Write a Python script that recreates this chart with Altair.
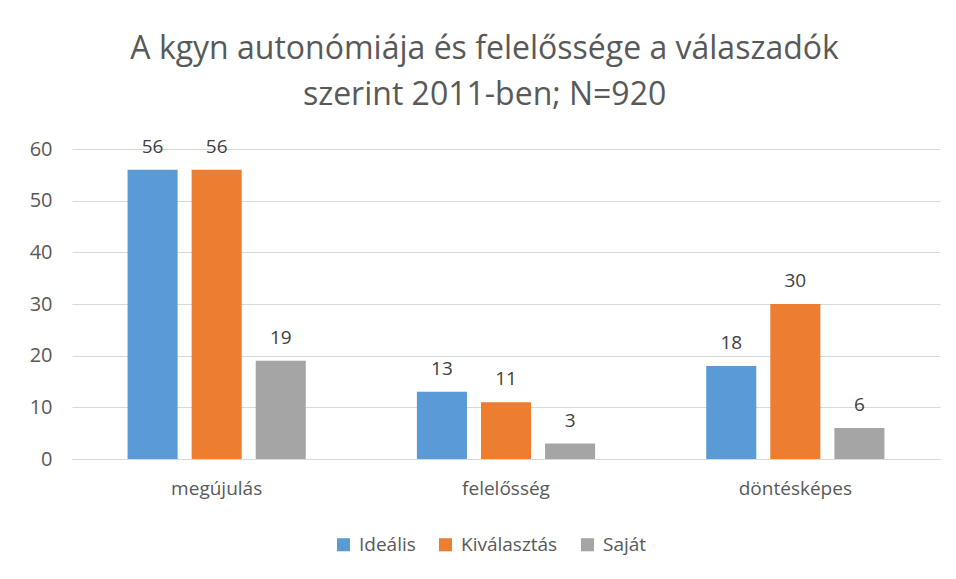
import altair as alt
import pandas as pd

categories = ["megújulás", "felelősség", "döntésképes"]
series = ["Ideális", "Kiválasztás", "Saját"]
ideális = [56, 13, 18]
kiválasztás = [56, 11, 30]
saját = [19, 3, 6]
colors = ["#5B9BD5", "#ED7D31", "#A5A5A5"]

rows = []
for i, c in enumerate(categories):
    for s, vals in zip(series, [ideális, kiválasztás, saját]):
        rows.append({"kategória": c, "sorozat": s, "érték": vals[i]})
df = pd.DataFrame(rows)

FONT = "Open Sans"
TXT = "#595959"
FS = 19

base = alt.Chart(df).encode(
    x=alt.X("kategória:N", sort=categories, title=None,
            scale=alt.Scale(paddingInner=0, paddingOuter=0),
            axis=alt.Axis(labelAngle=0, ticks=False, domainColor="#D9D9D9",
                          labelFontSize=FS, labelColor=TXT, labelFont=FONT,
                          labelPadding=20)),
    xOffset=alt.XOffset("sorozat:N", sort=series,
                        scale=alt.Scale(paddingInner=0.21875, paddingOuter=0.867)),
)

bars = base.mark_bar().encode(
    y=alt.Y("érték:Q", title=None,
            scale=alt.Scale(domain=[0, 60]),
            axis=alt.Axis(values=[0, 10, 20, 30, 40, 50, 60], ticks=False, domain=False,
                          gridColor="#D9D9D9", labelFontSize=20, labelColor=TXT,
                          labelFont=FONT, labelPadding=20)),
    color=alt.Color("sorozat:N", sort=series,
                    scale=alt.Scale(domain=series, range=colors),
                    legend=alt.Legend(title=None, orient="none", direction="horizontal",
                                      legendX=262, legendY=386,
                                      symbolType="square", symbolSize=170, symbolStrokeWidth=0,
                                      labelFontSize=FS, labelColor=TXT, labelFont=FONT,
                                      columnPadding=20, labelOffset=6)),
)

labels = base.mark_text(baseline="alphabetic", dy=-17, fontSize=FS, color="#404040", font=FONT).encode(
    y=alt.Y("érték:Q"),
    text=alt.Text("érték:Q"),
)

chart = alt.layer(bars, labels).properties(
    width=868,
    height=310,
    autosize=alt.AutoSizeParams(type="none"),
    padding={"left": 64, "top": 141, "right": 8, "bottom": 112},
    title=alt.TitleParams(
        ["A kgyn autonómiája és felelőssége a válaszadók", "szerint 2011-ben; N=920"],
        font=FONT, fontSize=32, fontWeight="normal", color=TXT,
        anchor="middle", frame="bounds", lineHeight=46, offset=26,
    ),
).configure_view(stroke=None)

chart.save("out.html", embed_options={"renderer": "svg", "actions": False})
